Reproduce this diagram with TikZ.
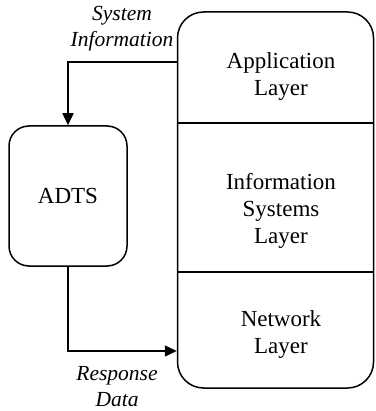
\documentclass[tikz,border=0pt]{standalone}
\usepackage{fontspec}
\setmainfont{Liberation Serif}
\usetikzlibrary{arrows.meta}
\begin{document}
\begin{tikzpicture}[x=1pt,y=-1pt,
  box/.style={draw, line width=1.5pt, inner sep=0pt},
  txt/.style={align=center, inner sep=0pt, font=\fontsize{23}{27}\selectfont},
  itxt/.style={align=center, inner sep=0pt, font=\fontsize{21.5}{26}\selectfont\itshape},
  conn/.style={line width=1.5pt, -{Triangle[length=12pt,width=11pt]}},
  divider/.style={line width=1.2pt}]
\useasboundingbox (0,0) rectangle (375,411);

% layer stack
\node[box, minimum width=196pt, minimum height=376pt, rounded corners=26pt] (stack) at (275.5,200) {};
\coordinate (d1) at (0,123);
\coordinate (d2) at (0,272);
\draw[divider] (stack.west |- d1) -- (stack.east |- d1);
\draw[divider] (stack.west |- d2) -- (stack.east |- d2);
\node[txt] (app) at (281,77) {Application\\Layer};
\node[txt] (info) at (281,211) {Information\\Systems\\Layer};
\node[txt] (net) at (281,334) {Network\\Layer};

% ADTS component
\node[box, minimum width=118pt, minimum height=140pt, rounded corners=20pt] (adts) at (68,196) {};
\node[txt] (adtslbl) at (adts.center) {ADTS};

% connectors
\coordinate (top) at (0,62);
\coordinate (bot) at (0,351);
\draw[conn] (stack.west |- top) -| (adts.north);
\draw[conn] (adts.south) |- (stack.west |- bot);

\node[itxt] (sysinfo) at (122,29) {System\\Information};
\node[itxt] (resp) at (117,387) {Response\\Data};
\end{tikzpicture}
\end{document}
